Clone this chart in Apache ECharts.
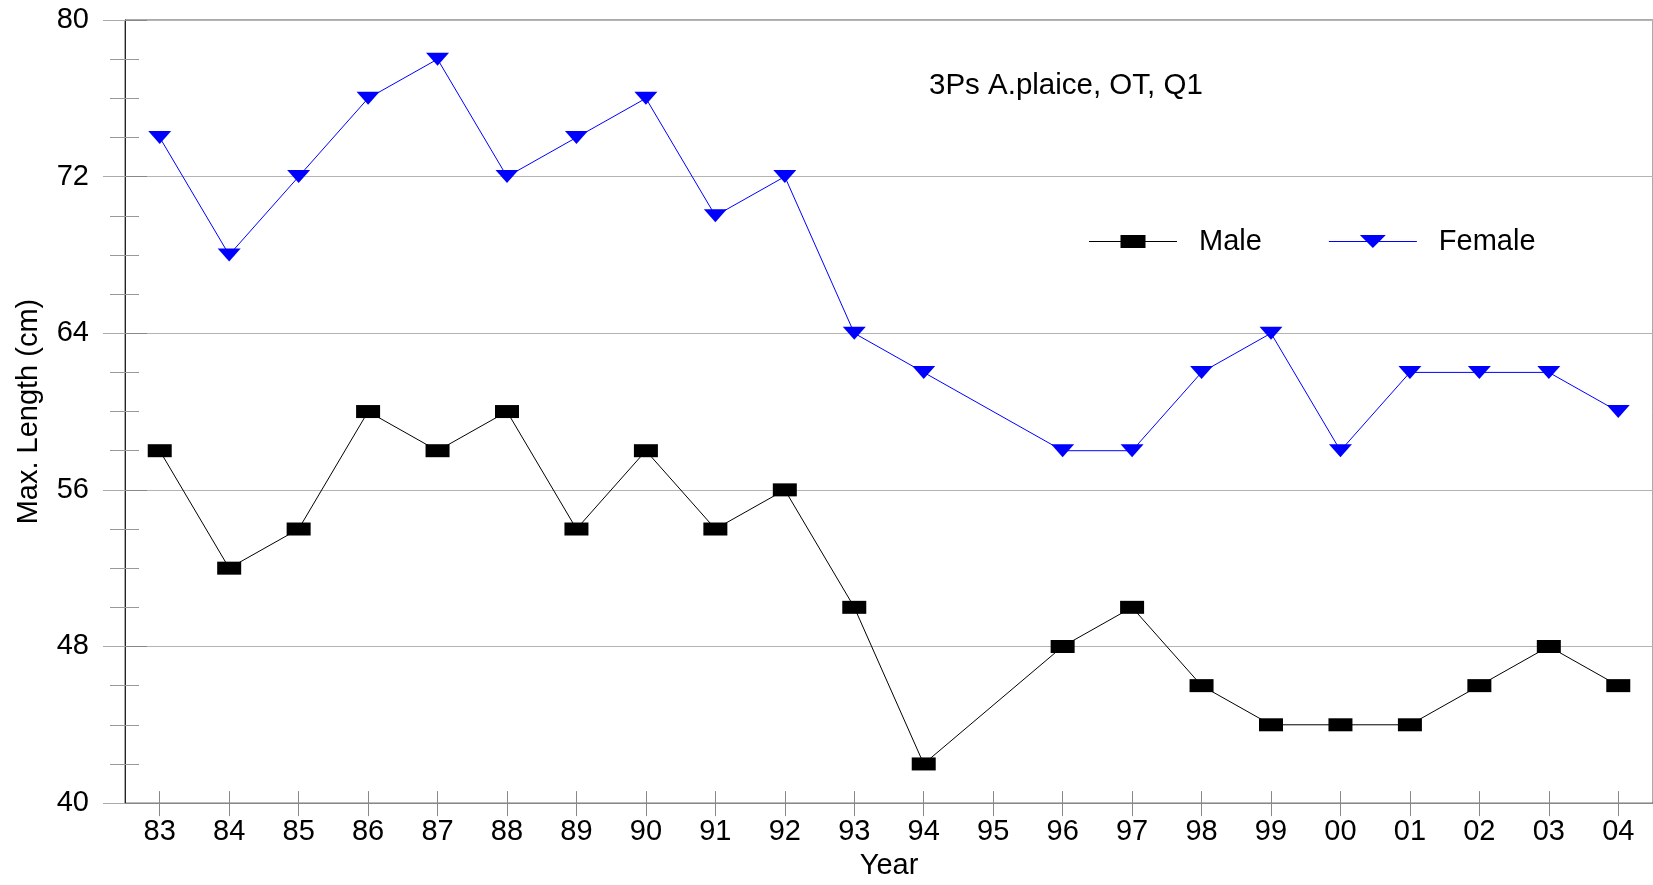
<!DOCTYPE html>
<html>
<head>
<meta charset="utf-8">
<script src="https://cdn.jsdelivr.net/npm/echarts@6/dist/echarts.min.js"></script>
<style>
  html, body { margin: 0; padding: 0; background: #fff; }
  #chart { width: 1653px; height: 885px; }
</style>
</head>
<body>
<div id="chart"></div>
<script>
// Survey years (two-digit labels); 95 has no survey value
const years = ['83','84','85','86','87','88','89','90','91','92','93','94','95','96','97','98','99','00','01','02','03','04'];
// Maximum observed length (cm) by sex
const maleMax   = [58, 52, 54, 60, 58, 60, 54, 58, 54, 56, 50, 42, null, 48, 50, 46, 44, 44, 44, 46, 48, 46];
const femaleMax = [74, 68, 72, 76, 78, 72, 74, 76, 70, 72, 64, 62, null, 58, 58, 62, 64, 58, 62, 62, 62, 60];
// Y-axis range and label step
const yMin = 40, yMax = 80, yStep = 8;

const FONT = "'Liberation Sans', Arial, sans-serif";
const TXT = { fontFamily: FONT, fontSize: 29, color: '#000' };

const chart = echarts.init(document.getElementById('chart'), null, { renderer: 'canvas' });

chart.setOption({
  animation: false,
  backgroundColor: '#fff',
  title: {
    text: '3Ps A.plaice, OT, Q1',
    left: 929, top: 71, padding: 0,
    textStyle: { fontFamily: FONT, fontSize: 29.5, fontWeight: 'normal', color: '#000' }
  },
  legend: {
    left: 1089, top: 227, padding: 0,
    itemWidth: 88, itemHeight: 13, itemGap: 67,
    textStyle: Object.assign({}, TXT, { padding: [0, 0, 0, 17] }),
    data: [
      { name: 'Male', icon: 'path://M0,6H88V7H0Z M31.5,0H56.5V13H31.5Z' },
      { name: 'Female', icon: 'path://M0,6H88V7H0Z M31,0H57L44,13Z' }
    ]
  },
  grid: {
    left: 125, right: -3, top: 20, bottom: 80,
    show: true, borderColor: '#555', borderWidth: 1
  },
  xAxis: [
    {
      type: 'category', data: years, boundaryGap: true,
      name: 'Year', nameLocation: 'middle', nameGap: 47,
      nameTextStyle: TXT,
      axisLine: { show: true, lineStyle: { color: '#888', width: 1 } },
      axisTick: { show: true, alignWithLabel: true, inside: false, length: 13, lineStyle: { color: '#888' } },
      axisLabel: Object.assign({ margin: 14, interval: 0 }, TXT),
      splitLine: { show: false }
    },
    {
      type: 'category', data: years, boundaryGap: true, position: 'bottom',
      axisLine: { show: false },
      axisTick: { show: true, alignWithLabel: true, inside: true, length: 12, lineStyle: { color: '#888' } },
      axisLabel: { show: false },
      splitLine: { show: false }
    }
  ],
  yAxis: [
    {
      type: 'value', min: yMin, max: yMax, interval: yStep,
      name: 'Max. Length (cm)', nameLocation: 'middle', nameGap: 82,
      nameTextStyle: TXT,
      axisLine: { show: true, lineStyle: { color: '#222', width: 1 } },
      axisTick: { show: true, inside: false, length: 22, lineStyle: { color: '#aaa' } },
      minorTick: { show: true, splitNumber: 4, length: 15, lineStyle: { color: '#999' } },
      axisLabel: Object.assign({ margin: 36 }, TXT),
      splitLine: { show: true, lineStyle: { color: '#b4b4b4', width: 1 } }
    },
    {
      type: 'value', min: yMin, max: yMax, interval: yStep, position: 'left',
      axisLine: { show: false },
      axisTick: { show: true, inside: true, length: 22, lineStyle: { color: '#888' } },
      minorTick: { show: true, splitNumber: 4, length: 14, lineStyle: { color: '#999' } },
      axisLabel: { show: false },
      splitLine: { show: false }
    }
  ],
  series: [
    {
      name: 'Male', type: 'line', data: maleMax, connectNulls: true,
      xAxisIndex: 0, yAxisIndex: 0,
      symbol: 'rect', symbolSize: [24, 13],
      color: '#000',
      lineStyle: { color: '#000', width: 1 },
      itemStyle: { color: '#000', borderWidth: 0 },
      z: 3
    },
    {
      name: 'Female', type: 'line', data: femaleMax, connectNulls: true,
      xAxisIndex: 0, yAxisIndex: 0,
      symbol: 'triangle', symbolRotate: 180, symbolSize: [23, 13],
      color: '#0000ff',
      lineStyle: { color: '#0000ff', width: 1 },
      itemStyle: { color: '#0000ff', borderWidth: 0 },
      z: 3
    }
  ]
});
</script>
</body>
</html>
